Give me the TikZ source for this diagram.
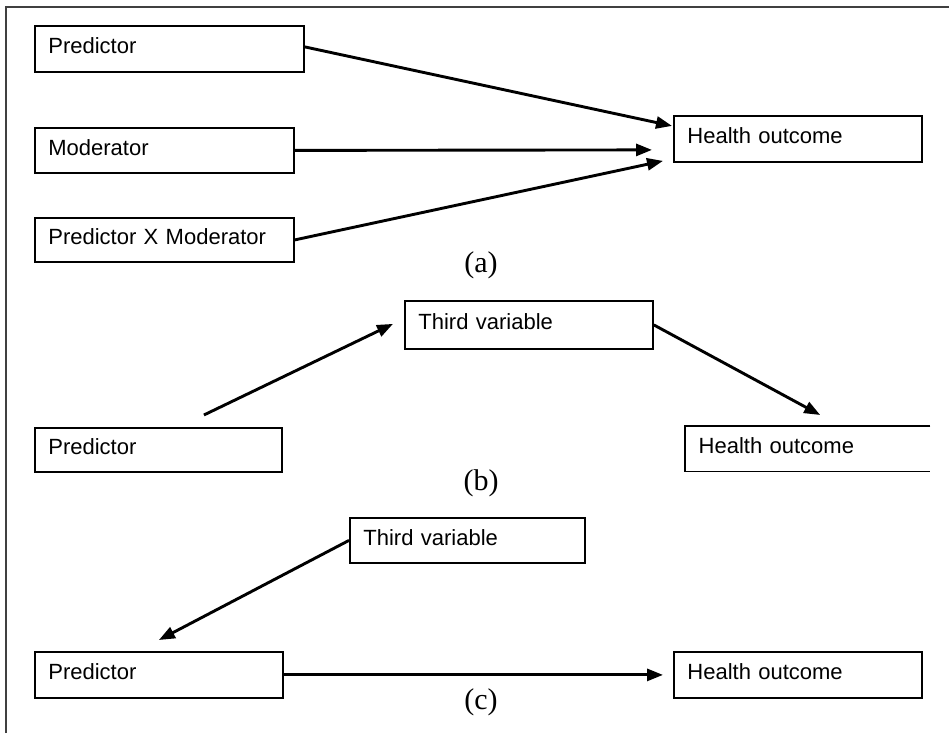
\documentclass[tikz,border=0pt]{standalone}
\usepackage{fontspec}
\setmainfont{Liberation Serif}
\newfontfamily\boxfont{Liberation Sans}
\usetikzlibrary{arrows.meta,calc}
\begin{document}
\begin{tikzpicture}[x=1pt,y=-1pt,
  boxnode/.style={draw=black,line width=1.8pt,anchor=north west,inner sep=0pt,
    minimum height=#1,font=\boxfont\fontsize{22}{26}\selectfont,align=left},
  plainbox/.style={anchor=north west,inner sep=0pt,minimum height=#1,
    font=\boxfont\fontsize{22}{26}\selectfont,align=left},
  conn/.style={line width=2.9pt,-{Triangle[length=16pt,width=12pt]}},
  caption/.style={font=\fontsize{30}{34}\selectfont,inner sep=0pt}]
\useasboundingbox (0,0) rectangle (949,733);
\fill[white] (0,0) rectangle (949,733);
% frame
\draw[line width=2pt,black!75] (6,733) -- (6,7) -- (949,7);
% (a)
\node[boxnode=46pt,minimum width=269pt,text width=254pt] (pa) at (34,25) {\hspace*{6pt}Predictor\raisebox{0pt}[16pt][6pt]{}};
\node[boxnode=45pt,minimum width=259pt,text width=244pt] (ma) at (34,127) {\hspace*{6pt}Moderator\raisebox{0pt}[16pt][6pt]{}};
\node[boxnode=44pt,minimum width=259pt,text width=244pt] (pma) at (34,217) {\hspace*{6pt}Predictor X Moderator\raisebox{0pt}[16pt][6pt]{}};
\node[boxnode=46pt,minimum width=248pt,text width=233pt] (ha) at (673,115) {\hspace*{6pt}Health outcome\raisebox{0pt}[16pt][6pt]{}};
\draw[conn] ($(pa.east)+(0,-2)$) -- ($(ha.west)+(-1,-13)$);
\draw[conn] (ma.east) -- ($(ha.west)+(-21,11)$);
\draw[conn] (pma.east) -- ($(ha.west)+(-10,22)$);
\node[caption] (capa) at (481,265) {(a)};
% (b)
\node[boxnode=48pt,minimum width=248pt,text width=233pt] (tb) at (404,300) {\hspace*{6pt}Third variable\raisebox{0pt}[16pt][6pt]{}};
\node[boxnode=44pt,minimum width=247pt,text width=232pt] (pb) at (34,427) {\hspace*{6pt}Predictor\raisebox{0pt}[16pt][6pt]{}};
\node[plainbox=45pt,minimum width=245pt,text width=230pt] (hb) at (685,426) {\hspace*{6pt}Health outcome\raisebox{0pt}[16pt][6pt]{}};
\draw[line width=1.8pt] (hb.north east) -- (hb.north west) -- (hb.south west) -- (hb.south east);
\draw[conn] ($(pb.north)+(45.5,-12)$) -- ($(tb.west)+(-11,-1)$);
\draw[conn] (tb.east) -- ($(hb.north)+(12.5,-11)$);
\node[caption] (capb) at (481,483) {(b)};
% (c)
\node[boxnode=45pt,minimum width=235pt,text width=220pt] (tc) at (349,517) {\hspace*{6pt}Third variable\raisebox{0pt}[16pt][6pt]{}};
\node[boxnode=46pt,minimum width=248pt,text width=233pt] (pc) at (34,651) {\hspace*{6pt}Predictor\raisebox{0pt}[16pt][6pt]{}};
\node[boxnode=46pt,minimum width=248pt,text width=233pt] (hc) at (673,651) {\hspace*{6pt}Health outcome\raisebox{0pt}[16pt][6pt]{}};
\draw[conn] (tc.west) -- ($(pc.north)+(0,-11)$);
\draw[conn] (pc.east) -- ($(hc.west)+(-10,0)$);
\node[caption] (capc) at (481,702) {(c)};
\end{tikzpicture}
\end{document}
